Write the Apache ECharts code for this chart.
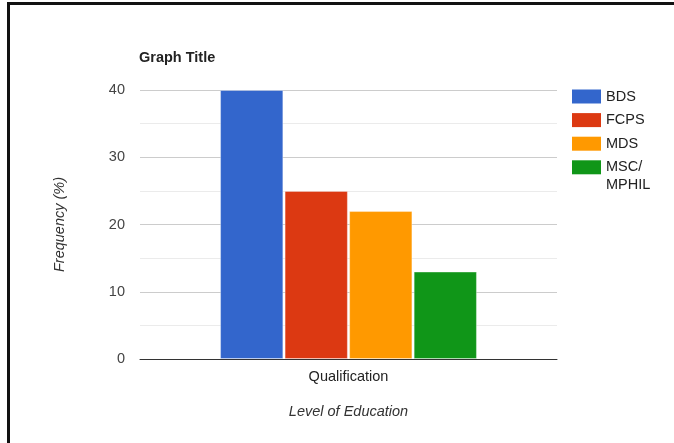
<!DOCTYPE html>
<html>
<head>
<meta charset="utf-8">
<script src="https://cdn.jsdelivr.net/npm/echarts@6/dist/echarts.min.js"></script>
<style>
  html, body { margin: 0; padding: 0; width: 674px; height: 443px; overflow: hidden; background: #fff; }
  #frame { position: absolute; left: 7px; top: 2px; width: 720px; height: 500px;
           border-left: 3px solid #111; border-top: 3px solid #111; box-sizing: border-box; }
  #chart { position: absolute; left: 0; top: 0; width: 674px; height: 443px; }
</style>
</head>
<body>
<div id="frame"></div>
<div id="chart"></div>
<script>
// Qualification breakdown (percent of respondents)
const categories = ['Qualification'];
const seriesNames = ['BDS', 'FCPS', 'MDS', 'MSC/MPHIL'];
const bdsValues = [40];
const fcpsValues = [25];
const mdsValues = [22];
const mscValues = [13];
const yTicks = [0, 10, 20, 30, 40];

const colors = ['#3366cc', '#dc3912', '#ff9900', '#109618'];
const valueSets = [bdsValues, fcpsValues, mdsValues, mscValues];
const fontFamily = 'Arial, "Liberation Sans", sans-serif';
const fontSize = 14.5;

const chart = echarts.init(document.getElementById('chart'));

chart.setOption({
  animation: false,
  title: {
    text: 'Graph Title',
    left: 139,
    top: 50,
    padding: 0,
    textStyle: { fontFamily, fontSize, fontWeight: 'bold', color: '#222' }
  },
  legend: {
    orient: 'vertical',
    left: 572,
    top: 88,
    padding: 0,
    itemWidth: 29,
    itemHeight: 14,
    itemGap: 6.6,
    itemStyle: { borderWidth: 0 },
    icon: 'rect',
    // the long label breaks after the slash; its second line is added below
    formatter: name => name === 'MSC/MPHIL' ? 'MSC/' : name,
    textStyle: { fontFamily, fontSize, color: '#222', lineHeight: 17 },
    data: seriesNames
  },
  graphic: [{
    type: 'text',
    left: 606,
    top: 177,
    style: { text: 'MPHIL', font: fontSize + 'px ' + fontFamily, fill: '#222' }
  }],
  grid: { left: 140, right: 117, top: 90, bottom: 84 },
  xAxis: {
    type: 'category',
    data: categories,
    name: 'Level of Education',
    nameLocation: 'middle',
    nameGap: 45,
    nameTextStyle: { fontFamily, fontSize, fontStyle: 'italic', color: '#333' },
    axisLine: { lineStyle: { color: '#333', width: 1 } },
    axisTick: { show: false },
    axisLabel: { fontFamily, fontSize, color: '#222', margin: 10 }
  },
  yAxis: {
    type: 'value',
    min: yTicks[0],
    max: yTicks[yTicks.length - 1],
    interval: 10,
    name: 'Frequency (%)',
    nameLocation: 'middle',
    nameGap: 73,
    nameTextStyle: { fontFamily, fontSize, fontStyle: 'italic', color: '#333' },
    axisLine: { show: false },
    axisTick: { show: false },
    axisLabel: { fontFamily, fontSize, color: '#444', margin: 15 },
    splitLine: { lineStyle: { color: '#cccccc', width: 1 } },
    minorTick: { show: false, splitNumber: 2 },
    minorSplitLine: { show: true, lineStyle: { color: '#ebebeb', width: 1 } }
  },
  series: seriesNames.map((name, i) => ({
    name,
    type: 'bar',
    data: valueSets[i],
    barGap: '2%',
    barCategoryGap: '38.4%',
    itemStyle: { color: colors[i], borderColor: 'rgba(255,255,255,0.35)', borderWidth: 1 },
    z: 3
  }))
});
</script>
</body>
</html>
